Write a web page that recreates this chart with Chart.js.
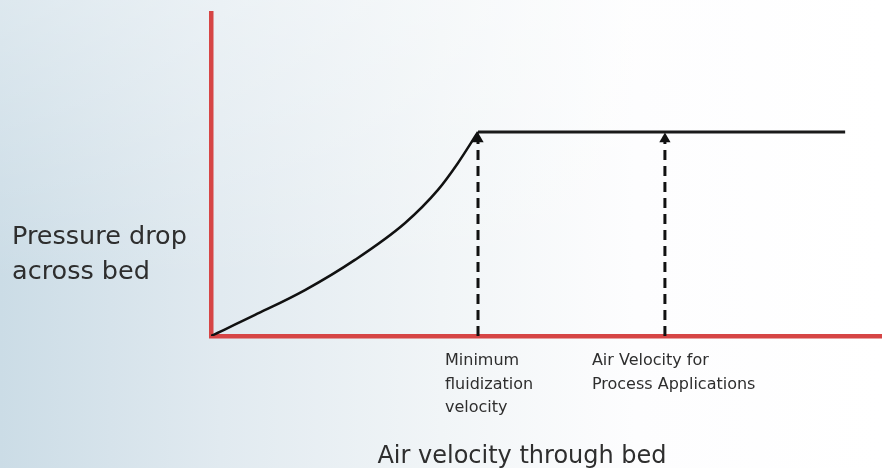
<!DOCTYPE html>
<html>
<head>
<meta charset="utf-8">
<script src="https://cdn.jsdelivr.net/npm/chart.js@4"></script>
<style>
  html, body { margin: 0; padding: 0; }
  body {
    width: 882px; height: 468px; overflow: hidden;
    background:
      linear-gradient(to bottom, rgba(255,255,255,0.35), rgba(255,255,255,0) 60%),
      linear-gradient(to right, #cbdce6 0%, #e1eaf0 25%, #f1f5f7 50%, #fdfdfe 72%, #ffffff 100%);
  }
  canvas { display: block; }
</style>
</head>
<body>
<canvas id="bedChart" width="882" height="468"></canvas>
<script>
// pressure drop (relative) vs air velocity (relative, 1 = minimum fluidization)
const curveVelocity = [0, 0.165, 0.352, 0.539, 0.727, 0.85, 0.925, 1.0];
const curvePressure = [0, 0.103, 0.225, 0.373, 0.554, 0.716, 0.848, 1.0];
const plateauVelocity = [1.0, 2.375];
const plateauPressure = [1.0, 1.0];
const fluidVelocity = 1.0;
const processVelocity = 1.7;
const arrowTop = 0.966;
const xMax = 2.513;
const yMax = 1.583;

const yAxisLabel = ['Pressure drop', 'across bed'];
const xAxisLabel = 'Air velocity through bed';
const fluidLabel = ['Minimum', 'fluidization', 'velocity'];
const processLabel = ['Air Velocity for', 'Process Applications'];

const textColor = '#2e2e2e';
const axisRed = '#d64545';

const toPoints = (xs, ys) => xs.map((x, i) => ({ x: x, y: ys[i] }));

const markerLine = v => ({
  data: [{ x: v, y: 0 }, { x: v, y: arrowTop }],
  borderColor: '#111',
  backgroundColor: '#111',
  borderWidth: 3,
  borderDash: [10, 6],
  pointStyle: 'triangle',
  pointRadius: [0, 6.5],
  pointBorderWidth: 0,
  pointHoverRadius: 0,
});

const labelsPlugin = {
  id: 'labelsPlugin',
  afterDraw(chart) {
    const ctx = chart.ctx;
    const x = chart.scales.x;
    ctx.save();
    ctx.fillStyle = textColor;
    ctx.textBaseline = 'alphabetic';
    ctx.textAlign = 'left';

    ctx.font = '25.5px "DejaVu Sans"';
    yAxisLabel.forEach((t, i) => ctx.fillText(t, 12, 244 + i * 35));

    ctx.font = '16px "DejaVu Sans"';
    const fx = x.getPixelForValue(fluidVelocity) - 33;
    fluidLabel.forEach((t, i) => ctx.fillText(t, fx, 365 + i * 23.5));
    const px = x.getPixelForValue(processVelocity) - 73;
    processLabel.forEach((t, i) => ctx.fillText(t, px, 365 + i * 23.5));

    ctx.font = '24px "DejaVu Sans"';
    ctx.textAlign = 'center';
    ctx.fillText(xAxisLabel, 522, 463);
    ctx.restore();
  }
};

new Chart(document.getElementById('bedChart').getContext('2d'), {
  type: 'line',
  data: {
    datasets: [
      {
        data: toPoints(curveVelocity, curvePressure),
        borderColor: '#111',
        borderWidth: 2.5,
        pointRadius: 0,
        cubicInterpolationMode: 'monotone',
      },
      {
        data: toPoints(plateauVelocity, plateauPressure),
        borderColor: '#1a1a1a',
        borderWidth: 3,
        pointRadius: 0,
      },
      markerLine(fluidVelocity),
      markerLine(processVelocity),
    ],
  },
  options: {
    responsive: false,
    animation: false,
    events: [],
    layout: { autoPadding: false, padding: { top: 13, right: 0, left: 0, bottom: 0 } },
    plugins: { legend: { display: false }, tooltip: { enabled: false } },
    scales: {
      x: {
        type: 'linear',
        min: 0,
        max: xMax,
        grid: { display: false },
        ticks: { display: false },
        border: { display: true, color: axisRed, width: 4.5 },
        afterFit: s => { s.height = 132; },
      },
      y: {
        min: 0,
        max: yMax,
        grid: { display: false },
        ticks: { display: false },
        border: { display: true, color: axisRed, width: 4.5 },
        afterFit: s => { s.width = 211; },
      },
    },
  },
  plugins: [labelsPlugin],
});
</script>
</body>
</html>
